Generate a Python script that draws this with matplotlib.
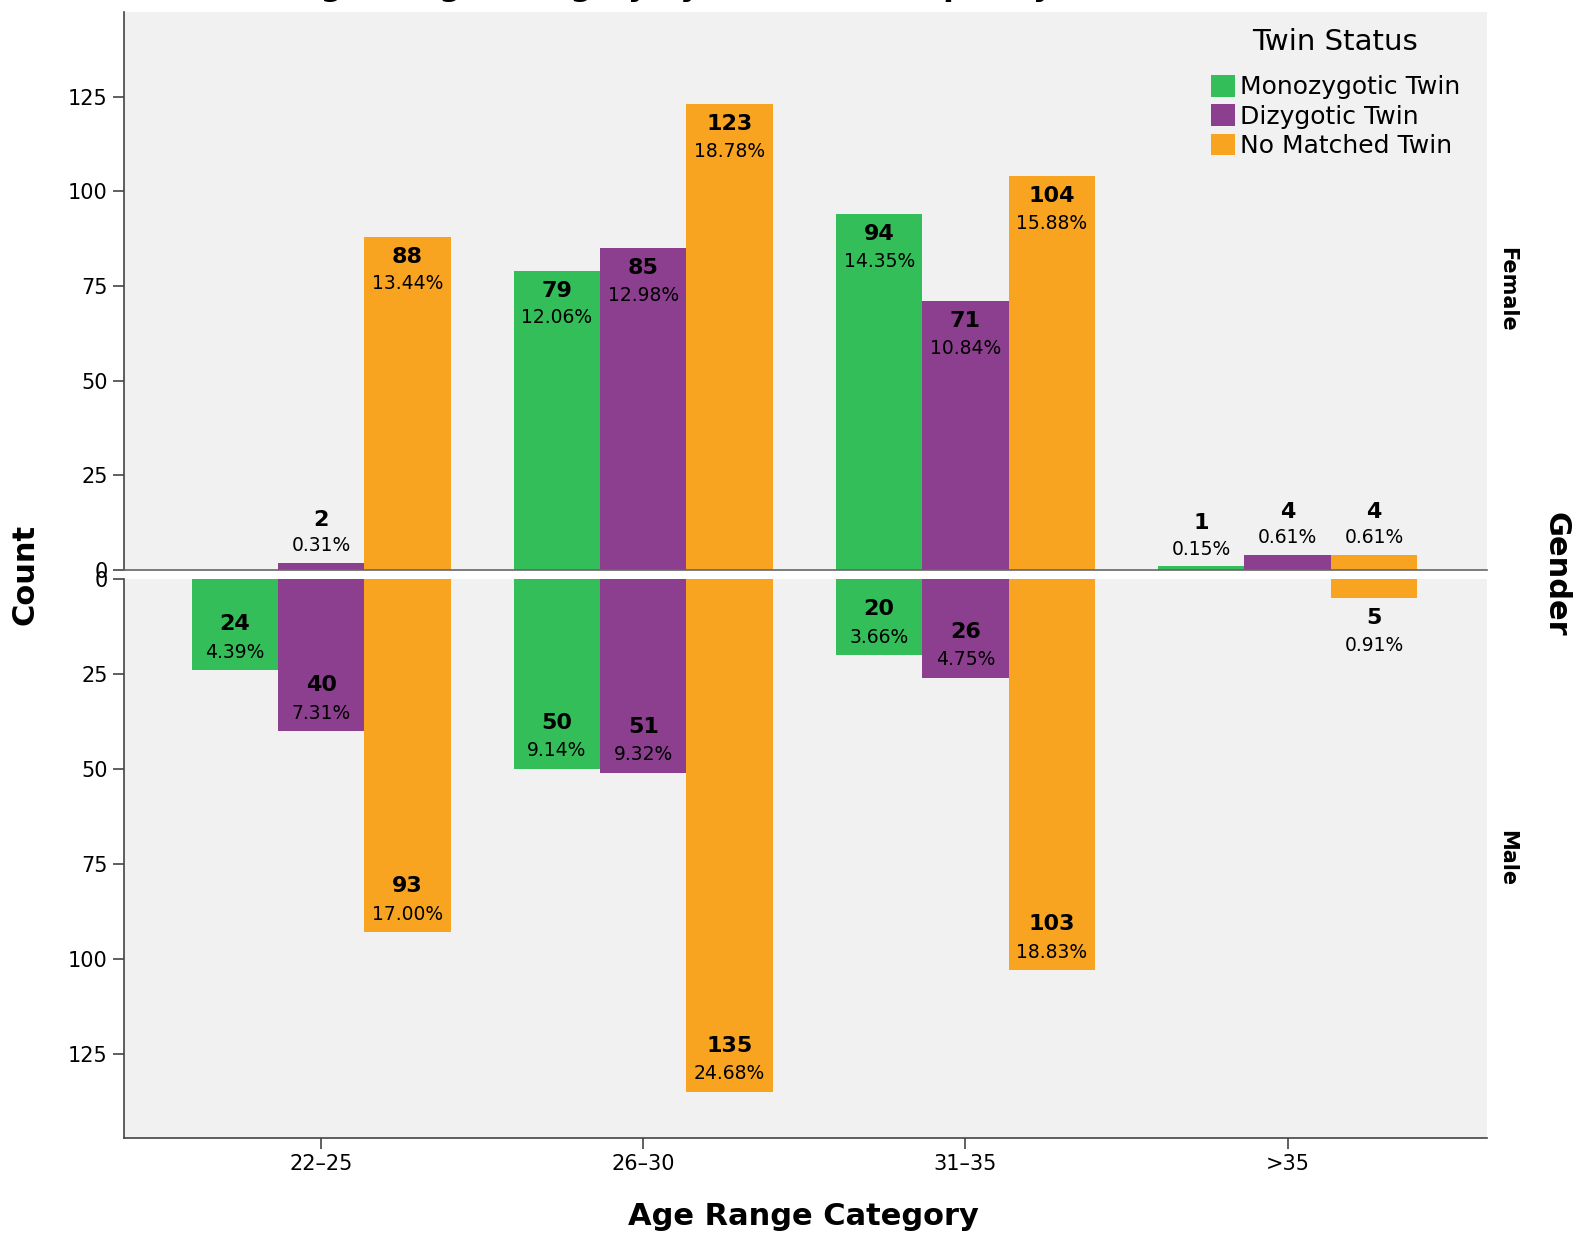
import matplotlib
matplotlib.use("Agg")
import numpy as np
import matplotlib.pyplot as plt
from matplotlib.patches import Patch

# data
ages = ["22\u201325", "26\u201330", "31\u201335", ">35"]
series = ["Monozygotic Twin", "Dizygotic Twin", "No Matched Twin"]
colors = ["#34BE59", "#8B3F8E", "#F8A420"]

female_mono = [0, 79, 94, 1]
female_dizy = [2, 85, 71, 4]
female_none = [88, 123, 104, 4]
male_mono = [24, 50, 20, 0]
male_dizy = [40, 51, 26, 0]
male_none = [93, 135, 103, 5]

female = [female_mono, female_dizy, female_none]
male = [male_mono, male_dizy, male_none]
female_total = sum(sum(s) for s in female)
male_total = sum(sum(s) for s in male)

bg = "#F1F1F1"
# layout measured on a 1568x1228 view of the chart
W, H = 1568, 1228
fig = plt.figure(figsize=(15.79, 12.37), dpi=100)

def frac(x0, y0, x1, y1):
    return [x0 / W, 1 - y1 / H, (x1 - x0) / W, (y1 - y0) / H]

ax1 = fig.add_axes(frac(123, 12, 1477, 566))
ax2 = fig.add_axes(frac(123, 575, 1477, 1130))

x = np.arange(len(ages))
bw = 0.268
ymax = 147.3

def label(ax, xi, v, total, top):
    pct = "%.2f%%" % (v / total * 100)
    inside = v >= 15
    if top:
        oc, op = (-20, -47) if inside else (43, 17)
    else:
        oc, op = (46, 18) if inside else (-20, -47)
    ax.annotate(str(v), (xi, v), xytext=(0, oc), textcoords="offset pixels",
                ha="center", va="center", fontsize=16, fontweight="bold")
    ax.annotate(pct, (xi, v), xytext=(0, op), textcoords="offset pixels",
                ha="center", va="center", fontsize=13.5)

for ax, data, total, top in [(ax1, female, female_total, True), (ax2, male, male_total, False)]:
    ax.set_facecolor(bg)
    for i, (vals, c) in enumerate(zip(data, colors)):
        xs = x + (i - 1) * bw
        ax.bar(xs, vals, width=bw, color=c, linewidth=0)
        for xi, v in zip(xs, vals):
            if v > 0:
                label(ax, xi, v, total, top)
    ax.set_xlim(-0.6125, 3.62)
    ax.set_yticks([0, 25, 50, 75, 100, 125])
    ax.tick_params(axis="y", labelsize=15, length=8, width=1.2, color="#444444")
    for s in ["top", "right"]:
        ax.spines[s].set_visible(False)
    for s in ["left", "bottom"]:
        ax.spines[s].set_color("#444444")
        ax.spines[s].set_linewidth(1.2)

ax1.set_ylim(0, ymax)
ax1.set_xticks([])
ax1.spines["bottom"].set_color("#666666")
ax2.set_ylim(ymax, 0)
ax2.set_xticks(x)
ax2.set_xticklabels(ages)
ax2.tick_params(axis="x", labelsize=15, length=8, width=1.2, color="#444444")

handles = [Patch(facecolor=c, edgecolor="none") for c in colors]
leg = ax1.legend(handles, series, loc="upper left",
                 bbox_to_anchor=(1190 / W, 1 - 62 / H), bbox_transform=fig.transFigure,
                 frameon=False, fontsize=18, handlelength=0.95,
                 handleheight=0.95, handletextpad=0.2, labelspacing=0.2, borderpad=0)
fig.text(1326 / W, 1 - 42 / H, "Twin Status", ha="center", va="center", fontsize=21)

fig.text(0.47, 1.0 + 4 / H, "Age Range Category by Twin Status Split by Gender", ha="center",
         va="baseline", fontsize=22, fontweight="bold")
fig.text(25 / W, 1 - 570 / H, "Count", rotation=90, ha="center", va="center",
         fontsize=22, fontweight="bold")
fig.text(798 / W, 1 - 1208 / H, "Age Range Category", ha="center", va="center",
         fontsize=22, fontweight="bold")
fig.text(1545 / W, 1 - 570 / H, "Gender", rotation=-90, ha="center", va="center",
         fontsize=22, fontweight="bold")
fig.text(1497 / W, 1 - 287 / H, "Female", rotation=-90, ha="center", va="center",
         fontsize=15, fontweight="bold")
fig.text(1497 / W, 1 - 852 / H, "Male", rotation=-90, ha="center", va="center",
         fontsize=15, fontweight="bold")

fig.savefig("out.png", dpi=100)
